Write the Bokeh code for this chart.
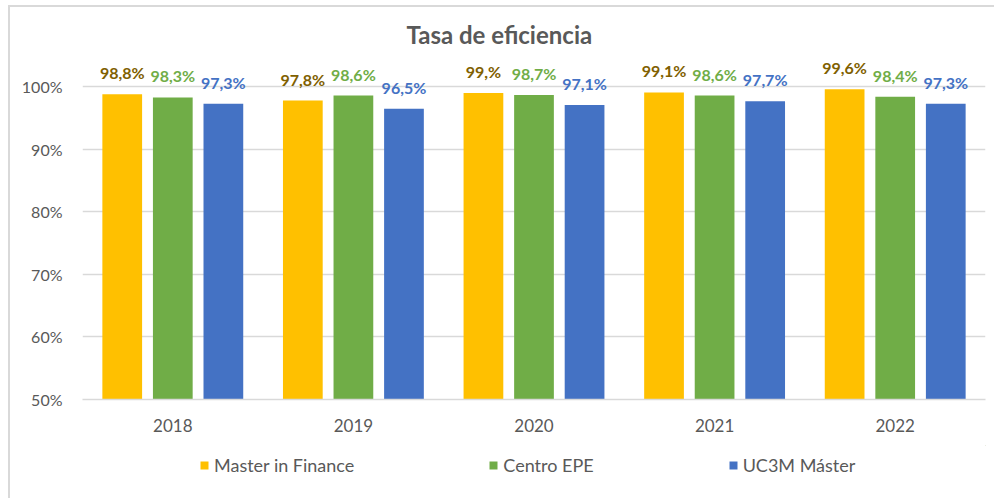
from bokeh.plotting import figure
from bokeh.layouts import column
from bokeh.models import (ColumnDataSource, FactorRange, FixedTicker, NumeralTickFormatter,
                          Legend, LegendItem, Title, Range1d)
from bokeh.transform import dodge
from bokeh.core.properties import value
from bokeh.embed import file_html
from bokeh.resources import INLINE

years = ["2018", "2019", "2020", "2021", "2022"]
series_names = ["Master in Finance", "Centro EPE", "UC3M Máster"]
master = [0.988, 0.978, 0.990, 0.991, 0.996]
centro = [0.983, 0.986, 0.987, 0.986, 0.984]
uc3m = [0.973, 0.965, 0.971, 0.977, 0.973]
master_labels = ["98,8%", "97,8%", "99,%", "99,1%", "99,6%"]
centro_labels = ["98,3%", "98,6%", "98,7%", "98,6%", "98,4%"]
uc3m_labels = ["97,3%", "96,5%", "97,1%", "97,7%", "97,3%"]
y_ticks = [0.5, 0.6, 0.7, 0.8, 0.9, 1.0]

bar_colors = ["#FFC000", "#70AD47", "#4472C4"]
label_colors = ["#7F6000", "#70AD47", "#4472C4"]
offsets = [-0.28, 0.0, 0.28]
FONT = "Lato"
BORDER = "2px solid #D9D9D9"

src = ColumnDataSource(dict(year=years, m=master, c=centro, u=uc3m,
                            ml=master_labels, cl=centro_labels, ul=uc3m_labels))

p = figure(x_range=FactorRange(*years, range_padding=0), y_range=(0.5, 1.05),
           width=986, height=440, output_backend="svg", toolbar_location=None,
           min_border_left=72, min_border_right=11, min_border_top=48, min_border_bottom=48,
           margin=(5, 0, 0, 8))
p.styles = {"border-left": BORDER, "border-top": BORDER}
p.outline_line_color = None
p.background_fill_color = "white"
p.border_fill_color = "white"

renderers = []
for key, lab, off, bc, lc in zip(["m", "c", "u"], ["ml", "cl", "ul"], offsets, bar_colors, label_colors):
    r = p.vbar(x=dodge("year", off, range=p.x_range), top=key, bottom=0.5, width=0.22,
               source=src, fill_color=bc, line_color=None)
    renderers.append(r)
    p.text(x=dodge("year", off, range=p.x_range), y=key, text=lab, source=src,
           text_align="center", text_baseline="bottom", y_offset=-12,
           text_font=value(FONT), text_font_style="bold", text_font_size="16px",
           text_color=lc)

t = Title(text="Tasa de eficiencia", align="left", offset=324,
          text_font=FONT, text_font_size="24px", text_font_style="bold",
          text_color="#595959", standoff=14)
p.add_layout(t, "above")

p.yaxis.ticker = FixedTicker(ticks=y_ticks)
p.yaxis.formatter = NumeralTickFormatter(format="0%")
p.yaxis.axis_line_color = None
p.yaxis.major_tick_line_color = None
p.yaxis.minor_tick_line_color = None
p.yaxis.major_label_text_font = FONT
p.yaxis.major_label_text_font_size = "16px"
p.yaxis.major_label_text_color = "#595959"
p.yaxis.major_label_standoff = 14

p.xaxis.axis_line_color = "#D9D9D9"
p.xaxis.axis_line_width = 1.5
p.xaxis.major_tick_line_color = None
p.xaxis.minor_tick_line_color = None
p.xaxis.major_label_text_font = FONT
p.xaxis.major_label_text_font_size = "17px"
p.xaxis.major_label_text_color = "#595959"
p.xaxis.major_label_standoff = 13

p.xgrid.grid_line_color = None
p.ygrid.ticker = FixedTicker(ticks=y_ticks)
p.ygrid.grid_line_color = "#D9D9D9"
p.ygrid.grid_line_width = 1.5

# legend strip
p2 = figure(width=986, height=53, x_range=Range1d(0, 1), y_range=Range1d(0, 1),
            x_axis_type=None, y_axis_type=None, output_backend="svg", toolbar_location=None,
            min_border=0, margin=(0, 0, 0, 8))
p2.styles = {"border-left": BORDER}
p2.outline_line_color = None
p2.background_fill_color = "white"
p2.border_fill_color = "white"
dummies = [p2.vbar(x=[5], top=[5], bottom=[4], width=0.1, fill_color=c, line_color=None)
           for c in bar_colors]
legend = Legend(items=[LegendItem(label=n, renderers=[r]) for n, r in zip(series_names, dummies)],
                orientation="horizontal", location=(117, 22),
                glyph_width=10, glyph_height=10, label_standoff=5, spacing=134,
                label_text_font=FONT, label_text_font_size="18px", label_text_color="#595959",
                border_line_color=None, background_fill_alpha=0, padding=0, margin=0)
p2.add_layout(legend)

layout = column(p, p2, spacing=0)
open("out.html", "w").write(file_html(layout, INLINE))
